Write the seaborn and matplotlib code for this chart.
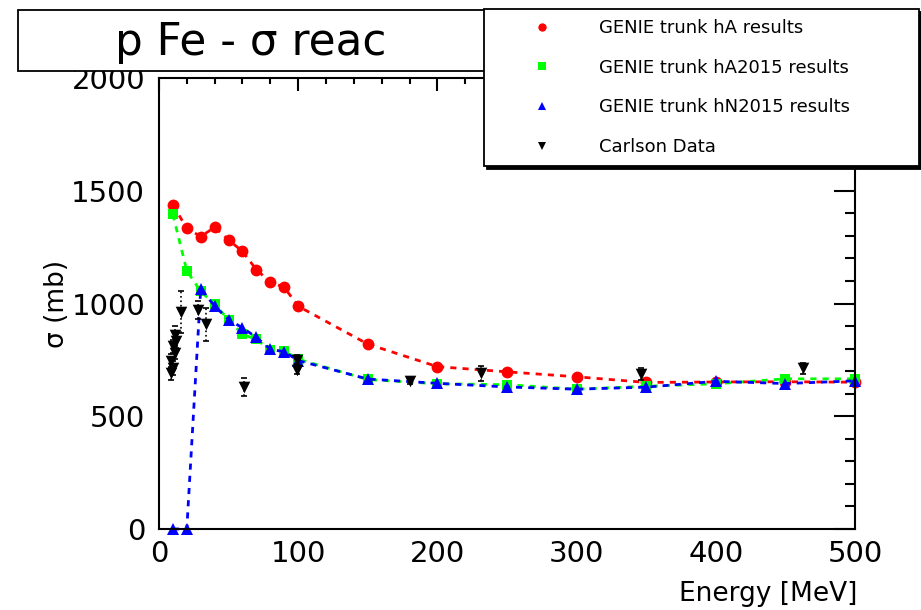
import numpy as np
import seaborn as sns
import matplotlib.pyplot as plt
from matplotlib.lines import Line2D
from matplotlib.patches import Rectangle
from matplotlib.ticker import MultipleLocator

# ------------------------------------------------------------
# values
# ------------------------------------------------------------
energy = [10, 20, 30, 40, 50, 60, 70, 80, 90, 100,
          150, 200, 250, 300, 350, 400, 450, 500]

ha_sigma = [1437, 1334, 1297, 1338, 1282, 1231, 1150, 1095, 1072, 988,
            820, 720, 697, 675, 650, 652, 653, 651]
ha2015_sigma = [1395, 1145, 1054, 996, 929, 863, 841, 793, 790, 753,
                663, 644, 640, 620, 633, 644, 666, 666]
hn2015_sigma = [0, 0, 1066, 988, 929, 892, 850, 797, 786, 747,
                665, 646, 630, 620, 629, 655, 645, 657]

carlson_e = [8.5, 9.0, 10.0, 10.0, 11.5, 11.5, 12.5, 16.0, 28.0, 34.0,
             61.0, 99.0, 99.0, 180.0, 231.0, 346.0, 463.0]
carlson_sigma = [690, 745, 715, 810, 782, 862, 834, 962, 973, 907,
                 628, 750, 706, 657, 690, 687, 713]
carlson_err = [30, 30, 30, 30, 30, 40, 30, 95, 40, 75,
               40, 20, 20, 15, 35, 25, 25]

labels = ["GENIE trunk hA results", "GENIE trunk hA2015 results",
          "GENIE trunk hN2015 results", "Carlson Data"]

sns.set_theme(style="white")
plt.rcParams["font.family"] = ["DejaVu Sans"]
plt.rcParams["text.color"] = "black"
plt.rcParams["axes.labelcolor"] = "black"

fig = plt.figure(figsize=(9.21, 6.10), dpi=100)
ax = fig.add_axes([0.1726, 0.1328, 0.7557, 0.7393])

dash = (0, (2.2, 2.2))
series = [
    (ha_sigma, "#ff0000", "o", 8.5),
    (ha2015_sigma, "#00ff00", "s", 7.5),
    (hn2015_sigma, "#0000ff", "^", 8),
]
for sig, col, mk, ms in series:
    sns.lineplot(x=energy, y=sig, ax=ax, color=col, linestyle=dash, lw=2,
                 marker=mk, markersize=ms, markeredgewidth=0,
                 estimator=None, sort=False, clip_on=False)

# Carlson data with dotted error bars
eb = ax.errorbar(carlson_e, carlson_sigma, yerr=carlson_err, fmt="none",
                 ecolor="black", elinewidth=1.2, capsize=2, capthick=1.2)
eb[2][0].set_linestyle(":")
sns.scatterplot(x=carlson_e, y=carlson_sigma, ax=ax, marker="v", s=70,
                color="black", edgecolor="black", linewidth=0, zorder=4)

ax.set_xlim(0, 500)
ax.set_ylim(0, 2000)
ax.xaxis.set_major_locator(MultipleLocator(100))
ax.xaxis.set_minor_locator(MultipleLocator(20))
ax.yaxis.set_major_locator(MultipleLocator(500))
ax.yaxis.set_minor_locator(MultipleLocator(100))
ax.tick_params(which="both", direction="in", top=True, right=True,
               width=1.5, colors="black", labelsize=21)
ax.tick_params(axis="x", which="major", length=9, pad=8)
ax.tick_params(axis="x", which="minor", length=4.5)
ax.tick_params(axis="y", which="major", length=15, pad=10)
ax.tick_params(axis="y", which="minor", length=7.5)
for sp in ax.spines.values():
    sp.set_linewidth(1.5)
    sp.set_color("black")

ax.set_xlabel("Energy [MeV]", fontsize=19, ha="right")
ax.xaxis.set_label_coords(1.003, -0.115)
ax.set_ylabel("σ (mb)", fontsize=19)
ax.yaxis.set_label_coords(-0.128, 0.5)

# title box
fig.patches.append(Rectangle((18 / 921, 1 - 71 / 610), 480 / 921, 61 / 610,
                             transform=fig.transFigure, facecolor="white",
                             edgecolor="black", lw=1.3, zorder=3))
fig.text(251 / 921, 1 - 55 / 610, "p Fe - σ reac", fontsize=31.5,
         ha="center", va="baseline", zorder=4)

# legend
handles = [Line2D([], [], color=c, marker=m, linestyle="none", markersize=6,
                  markeredgewidth=0) for _, c, m, _ in series]
handles.append(Line2D([], [], color="black", marker="v", linestyle="none",
                      markersize=6, markeredgewidth=0))
leg = fig.legend(handles, labels, loc="upper left",
                 bbox_to_anchor=(484 / 921, 0, 435 / 921, 1 - 9 / 610),
                 mode="expand", fontsize=13, frameon=True, fancybox=False,
                 borderpad=0.55, labelspacing=1.2, handlelength=5.3,
                 handletextpad=0.5, borderaxespad=0,
                 shadow={"ox": 2, "oy": -2, "color": "black", "alpha": 1})
leg.get_frame().set_edgecolor("black")
leg.get_frame().set_linewidth(1.3)
leg.set_zorder(10)

fig.savefig("out.png", dpi=100)
